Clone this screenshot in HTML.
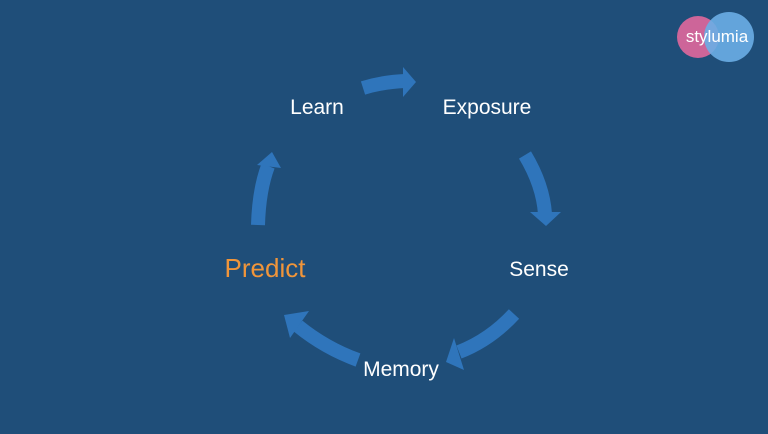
<!DOCTYPE html>
<html><head><meta charset="utf-8"><style>
html,body{margin:0;padding:0;}
body{width:768px;height:434px;background:#1f4e79;overflow:hidden;position:relative;font-family:"Liberation Sans",sans-serif;}
</style></head><body>
<svg width="768" height="434" style="position:absolute;left:0;top:0">
<g fill="none" stroke="#2f75bb" stroke-width="14">
<path d="M363 88 Q382 82 405 81"/>
<path d="M525 155 Q543 185 545 214"/>
<path d="M514 314 Q490 340 459 352"/>
<path d="M358 360 Q325 348 298 326"/>
<path d="M258 225 Q259 190 268 166"/>
</g>
<g fill="#2f75bb">
<polygon points="403,67 416,82 403,97"/>
<polygon points="530,212 561,212 546,226"/>
<polygon points="454,338 464,370 446,362"/>
<polygon points="284,315 309,311 290,338"/>
<polygon points="257,165 281,168 272,152"/>
</g>
<circle cx="698" cy="37" r="21" fill="#e0689c" opacity="0.9"/>
<circle cx="729" cy="37" r="25" fill="#6aaee6" opacity="0.9"/>
<text x="717" y="42" text-anchor="middle" font-family="Liberation Sans,sans-serif" font-size="17" fill="#fff">stylumia</text>
<g font-family="Liberation Sans,sans-serif" font-size="21" fill="#fff" text-anchor="middle">
<text x="317" y="114">Learn</text>
<text x="487" y="114">Exposure</text>
<text x="539" y="276">Sense</text>
<text x="401" y="376">Memory</text>
<text x="265" y="277" font-size="26" fill="#f0953a">Predict</text>
</g>
</svg>
</body></html>
